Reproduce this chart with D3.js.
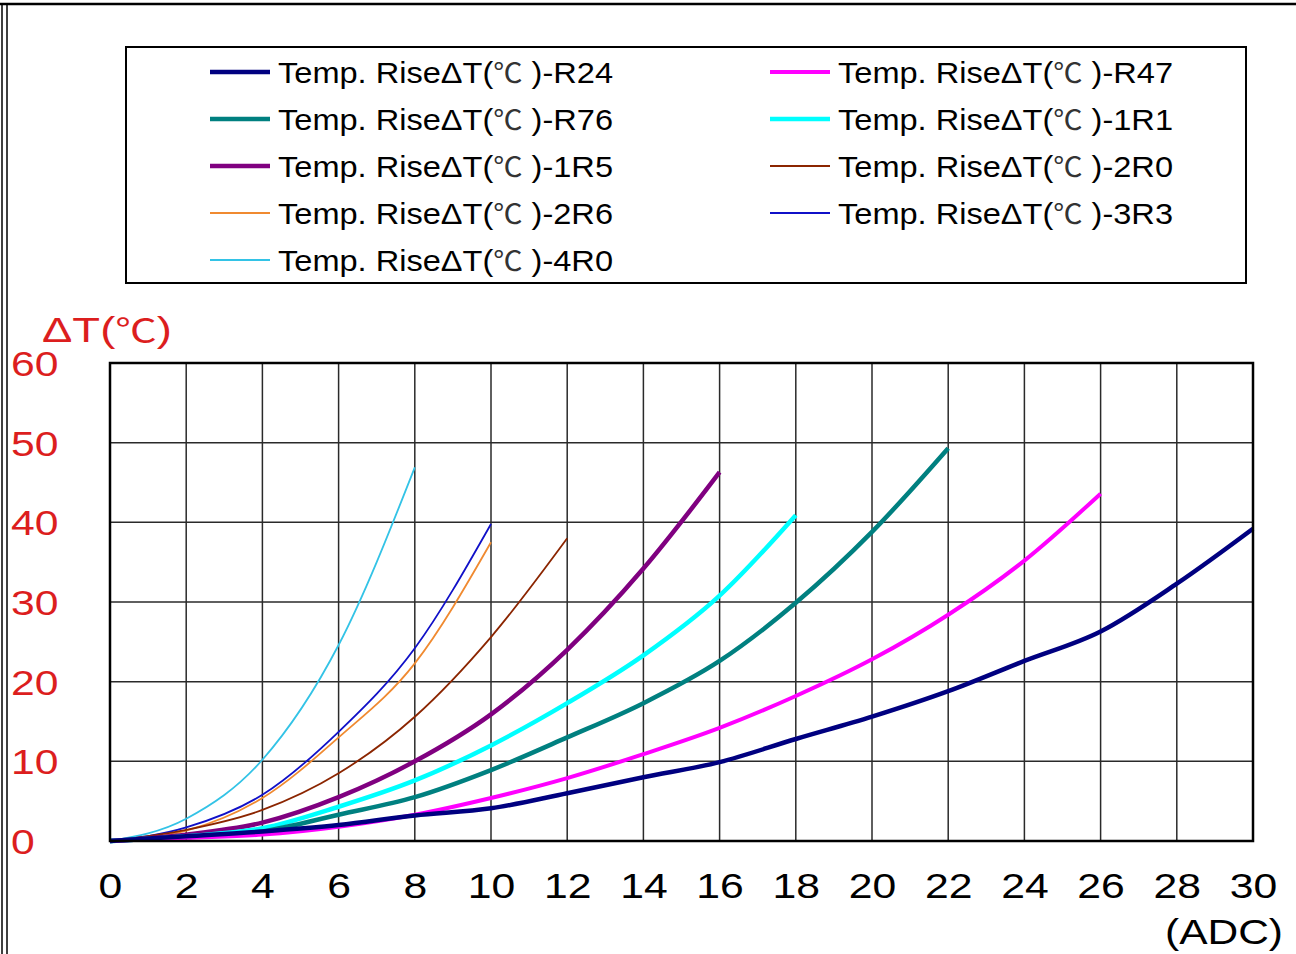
<!DOCTYPE html>
<html><head><meta charset="utf-8">
<script src="https://cdn.jsdelivr.net/npm/d3@7"></script>
<style>
html,body{margin:0;padding:0;background:#fff;}
svg{display:block;}
text{font-family:"Liberation Sans",Arial,"Noto Sans CJK SC",sans-serif;}
</style></head>
<body>
<svg id="chart" width="1296" height="954"></svg>
<script>
// ---- data ----
const xTicks = [0,2,4,6,8,10,12,14,16,18,20,22,24,26,28,30];
const yTicks = [0,10,20,30,40,50,60];
const seriesNames = ["R24","R47","R76","1R1","1R5","2R0","2R6","3R3","4R0"];
const seriesColors = ["#000080","#ff00ff","#008080","#00ffff","#800080","#8b2500","#f08a30","#1010c8","#33c3e6"];
const seriesWidths = [4.5,4,4.5,4.5,4.5,1.8,1.8,1.8,1.8];
const xR24 = [0,2,4,6,8,10,12,14,16,18,20,22,24,26,28,30];
const yR24 = [0,0.6,1.2,2,3.2,4.1,6,8,9.9,12.8,15.6,18.8,22.6,26.3,32.3,39.2];
const xR47 = [0,2,4,6,8,10,12,14,16,18,20,22,24,26];
const yR47 = [0,0.4,0.8,1.8,3.3,5.4,7.9,10.9,14.2,18.2,22.8,28.4,35.2,43.6];
const xR76 = [0,2,4,6,8,10,12,14,16,18,20,22];
const yR76 = [0,0.5,1.2,3.3,5.5,8.9,13,17.3,22.6,29.9,38.8,49.3];
const x1R1 = [0,2,4,6,8,10,12,14,16,18];
const y1R1 = [0,0.6,1.6,4.3,7.6,12,17.3,23.3,30.8,40.9];
const x1R5 = [0,2,4,6,8,10,12,14,16];
const y1R5 = [0,0.8,2.3,5.5,10,15.9,24,34.2,46.3];
const x2R0 = [0,2,4,6,8,10,12];
const y2R0 = [0,1.4,3.9,8.5,15.6,25.6,38];
const x2R6 = [0,2,4,6,8,10];
const y2R6 = [0,1.3,5.4,13,22.3,37.5];
const x3R3 = [0,2,4,6,8,10];
const y3R3 = [0,1.7,5.8,13.7,24.2,39.8];
const x4R0 = [0,2,4,6,8];
const y4R0 = [0,2.8,10.2,24.6,46.9];
const seriesX = [xR24,xR47,xR76,x1R1,x1R5,x2R0,x2R6,x3R3,x4R0];
const seriesY = [yR24,yR47,yR76,y1R1,y1R5,y2R0,y2R6,y3R3,y4R0];
const legendOrder = ["R24","R47","R76","1R1","1R5","2R0","2R6","3R3","4R0"];
const legendPre = "Temp. RiseΔT(";
const legendDeg = "℃";
const legendPost = " )-";
const yTitleA = "ΔT(", yTitleDeg = "℃", yTitleB = ")";
const xUnit = "(ADC)";

// ---- layout ----
const svg = d3.select("#chart");
const L = 110, R = 1253, T = 363, B = 841;
const x = d3.scaleLinear().domain([0,30]).range([L,R]);
const y = d3.scaleLinear().domain([0,60]).range([B,T]);
const RED = "#dc1e1e";
const SX = 1.22;

// outer frame
svg.append("line").attr("x1",0).attr("x2",1296).attr("y1",4).attr("y2",4).attr("stroke","#000").attr("stroke-width",2.5);
svg.append("line").attr("x1",2).attr("x2",2).attr("y1",3).attr("y2",954).attr("stroke","#000").attr("stroke-width",1.5);
svg.append("line").attr("x1",7).attr("x2",7).attr("y1",3).attr("y2",954).attr("stroke","#000").attr("stroke-width",1.5);

// grid
const g = svg.append("g");
g.selectAll(".vg").data(xTicks).join("line")
  .attr("x1",d=>x(d)).attr("x2",d=>x(d)).attr("y1",T).attr("y2",B)
  .attr("stroke","#2a2a2a").attr("stroke-width",1.5);
g.selectAll(".hg").data(yTicks).join("line")
  .attr("x1",L).attr("x2",R).attr("y1",d=>y(d)).attr("y2",d=>y(d))
  .attr("stroke","#2a2a2a").attr("stroke-width",1.5);

// axes labels via d3 axes (styled)
const xAxis = d3.axisBottom(x).tickValues(xTicks).tickSize(0).tickPadding(0);
const xa = svg.append("g").attr("transform",`translate(0,${B})`).call(xAxis);
xa.select(".domain").remove();
xa.selectAll("text").attr("dy",0).attr("y",57).attr("font-size",35).attr("fill","#000")
  .attr("font-family","Liberation Sans, Arial, sans-serif")
  .attr("transform",`scale(${SX},1)`);

const yAxis = d3.axisLeft(y).tickValues(yTicks).tickSize(0).tickPadding(0);
const ya = svg.append("g").call(yAxis);
ya.select(".domain").remove();
ya.selectAll("text").attr("text-anchor","start").attr("x",11/SX).attr("dy","0.36em").attr("font-size",35)
  .attr("fill",RED).attr("font-family","Liberation Sans, Arial, sans-serif")
  .attr("transform",`scale(${SX},1)`);

// curves
const line = d3.line().x(d=>x(d[0])).y(d=>y(d[1])).curve(d3.curveMonotoneX);
const order = [8,7,6,5,4,3,2,1,0];
svg.append("g").selectAll("path").data(order).join("path")
  .attr("d",i=>line(seriesX[i].map((v,k)=>[v,seriesY[i][k]])))
  .attr("fill","none").attr("stroke",i=>seriesColors[i]).attr("stroke-width",i=>seriesWidths[i])
  .attr("stroke-linejoin","round").attr("stroke-linecap","butt");

// plot frame
svg.append("rect").attr("x",L).attr("y",T).attr("width",R-L).attr("height",B-T)
  .attr("fill","none").attr("stroke","#000").attr("stroke-width",2.5);

// y title and x unit
const yt = svg.append("text").attr("x",42).attr("y",342).attr("font-size",35).attr("fill",RED)
  .attr("textLength",130).attr("lengthAdjust","spacingAndGlyphs");
yt.append("tspan").text(yTitleA);
yt.append("tspan").attr("font-family","Noto Sans CJK SC").attr("font-size",32).text(yTitleDeg);
yt.append("tspan").text(yTitleB);
svg.append("text").attr("x",1165).attr("y",944).attr("font-size",35).attr("fill","#000")
  .attr("textLength",118).attr("lengthAdjust","spacingAndGlyphs").text(xUnit);

// legend
svg.append("rect").attr("x",126).attr("y",47).attr("width",1120).attr("height",236)
  .attr("fill","#fff").attr("stroke","#000").attr("stroke-width",2);
const lg = svg.append("g").selectAll("g").data(legendOrder).join("g")
  .attr("transform",(d,i)=>`translate(${i%2===0?210:770},${72+Math.floor(i/2)*47})`);
lg.append("line").attr("x1",0).attr("x2",60).attr("y1",0).attr("y2",0)
  .attr("stroke",d=>seriesColors[seriesNames.indexOf(d)])
  .attr("stroke-width",d=>Math.min(seriesWidths[seriesNames.indexOf(d)],4.5));
const lt = lg.append("text").attr("x",68).attr("y",0).attr("dy","0.36em").attr("font-size",30).attr("fill","#000")
  .attr("textLength",335).attr("lengthAdjust","spacingAndGlyphs");
lt.append("tspan").text(legendPre);
lt.append("tspan").attr("font-family","Noto Sans CJK SC").attr("font-size",27).attr("fill","#333").text(legendDeg);
lt.append("tspan").text(d=>legendPost+d);
</script>
</body></html>
